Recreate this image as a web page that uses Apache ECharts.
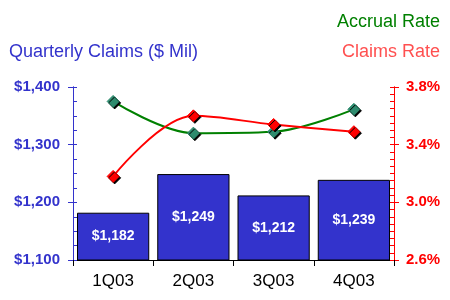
<!DOCTYPE html>
<html><head><meta charset="utf-8">
<script src="https://cdn.jsdelivr.net/npm/echarts@6/dist/echarts.min.js"></script>
<style>html,body{margin:0;padding:0;background:#fff}#c{width:450px;height:300px}</style>
</head><body><div id="c"></div>
<script>
const categories = ['1Q03', '2Q03', '3Q03', '4Q03'];
const claims = [1182, 1249, 1212, 1239];
const accrualRate = [3.70, 3.48, 3.49, 3.645];
const claimsRate = [3.18, 3.60, 3.54, 3.49];
const leftTicks = {min: 1100, max: 1400, interval: 100};
const rightTicks = {min: 2.6, max: 3.8, interval: 0.4};

const FONT = 'Liberation Sans, Arial, sans-serif';
const BLUE = '#3333cc';
const chart = echarts.init(document.getElementById('c'), null, {renderer: 'canvas'});
const money = v => '$' + v.toLocaleString('en-US');
const pct = v => v.toFixed(1) + '%';

function yAx(pos, t, color, fmt, showLabel, inside) {
  return {
    type: 'value', position: pos, min: t.min, max: t.max, interval: t.interval,
    splitLine: {show: false},
    axisLine: {show: true, lineStyle: {color: color, width: 1}},
    axisTick: {show: true, inside: inside, length: inside ? 4 : 5, lineStyle: {color: color}},
    minorTick: {show: inside, splitNumber: pos === 'left' ? 4 : 8, length: 4, lineStyle: {color: color}},
    axisLabel: {show: showLabel, color: color, fontFamily: FONT, fontSize: 15, fontWeight: 'bold',
      margin: pos === 'left' ? 13 : 12, formatter: fmt}
  };
}

chart.setOption({
  animation: false,
  grid: {left: 73, right: 56, top: 87, bottom: 40},
  title: [
    {text: 'Accrual Rate', right: 5, top: 8, textStyle: {color: '#008000', fontFamily: FONT, fontSize: 18, fontWeight: 'normal'}},
    {text: 'Claims Rate', right: 5, top: 38, textStyle: {color: '#ff5050', fontFamily: FONT, fontSize: 18, fontWeight: 'normal'}},
    {text: 'Quarterly Claims ($ Mil)', left: 4, top: 38, textStyle: {color: BLUE, fontFamily: FONT, fontSize: 18, fontWeight: 'normal'}}
  ],
  xAxis: {
    type: 'category', data: categories,
    axisLine: {lineStyle: {color: '#000'}},
    axisTick: {show: true, length: 6, lineStyle: {color: '#000'}},
    axisLabel: {color: '#000', fontFamily: FONT, fontSize: 17, margin: 13}
  },
  yAxis: [
    yAx('left', leftTicks, BLUE, money, true, true),
    yAx('right', rightTicks, '#ff0000', pct, true, true),
    yAx('left', leftTicks, BLUE, money, false, false),
    yAx('right', rightTicks, '#ff0000', pct, false, false)
  ],
  series: [
    {
      type: 'bar', data: claims, yAxisIndex: 0, barCategoryGap: '10%',
      itemStyle: {color: BLUE, borderColor: '#000', borderWidth: 1},
      label: {show: true, position: 'inside', color: '#fff', fontFamily: FONT, fontSize: 14, fontWeight: 'bold',
        formatter: p => money(p.value)}
    },
    {
      type: 'line', data: accrualRate, yAxisIndex: 1, smooth: 0.35,
      lineStyle: {color: '#008000', width: 2},
      symbol: 'diamond', symbolSize: 12,
      itemStyle: {color: '#2e8b6e', borderColor: '#2e8b6e', shadowColor: '#000', shadowOffsetX: 1.5, shadowOffsetY: 1.5, shadowBlur: 0}
    },
    {
      type: 'line', data: claimsRate, yAxisIndex: 1, smooth: 0.35,
      lineStyle: {color: '#ff0000', width: 2},
      symbol: 'diamond', symbolSize: 12,
      itemStyle: {color: '#ff0000', borderColor: '#ff0000', shadowColor: '#000', shadowOffsetX: 1.5, shadowOffsetY: 1.5, shadowBlur: 0}
    }
  ]
});
</script></body></html>
